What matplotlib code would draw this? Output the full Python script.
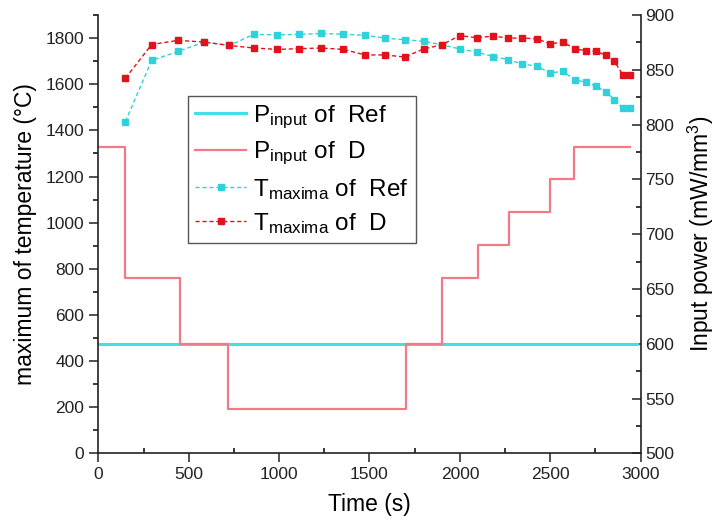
import matplotlib
matplotlib.use("Agg")
import matplotlib.pyplot as plt
from matplotlib.ticker import MultipleLocator

plt.rcParams['font.family'] = ['Liberation Sans', 'DejaVu Sans']
plt.rcParams['mathtext.fontset'] = 'custom'
plt.rcParams['mathtext.rm'] = 'Liberation Sans'
plt.rcParams['mathtext.it'] = 'Liberation Sans:italic'

#
# Data
#
time_T = [150, 295, 440, 585, 725, 860, 990, 1110, 1230, 1355, 1475, 1585, 1695,
          1800, 1900, 2000, 2095, 2185, 2265, 2345, 2425, 2500, 2570, 2635, 2695,
          2755, 2810, 2855, 2900, 2940]
T_ref = [1438, 1703, 1742, 1783, 1768, 1816, 1814, 1816, 1820, 1817, 1812, 1800, 1793,
         1786, 1771, 1753, 1739, 1720, 1707, 1688, 1678, 1649, 1656, 1619, 1609,
         1591, 1565, 1533, 1497, 1497]
T_D = [1626, 1772, 1790, 1783, 1768, 1757, 1751, 1754, 1757, 1751, 1727, 1727, 1718,
       1753, 1771, 1811, 1801, 1809, 1800, 1800, 1797, 1775, 1783, 1753, 1746,
       1742, 1725, 1699, 1642, 1642]

# input power, step profiles (value holds until the next time)
time_P_D = [0, 150, 450, 720, 1700, 1900, 2100, 2270, 2500, 2630, 2940]
P_D = [780, 660, 600, 540, 600, 660, 690, 720, 750, 780, 780]
time_P_ref = [0, 2980]
P_ref = [600, 600]

c_cyan = '#3fe0e6'
c_pink = '#f27a86'
c_tref = '#2fd2da'
c_red = '#e3111c'

fig = plt.figure(figsize=(7.16, 5.27), dpi=100)
ax = fig.add_axes([0.1373, 0.1398, 0.7575, 0.8317])
ax2 = ax.twinx()

# power on right axis
l1, = ax2.plot(time_P_ref, P_ref, color=c_cyan, lw=2.2, zorder=2,
               label=r'P$_{\mathrm{input}}$ of  Ref')
l2, = ax2.step(time_P_D, P_D, where='post', color=c_pink, lw=1.6, zorder=3,
               label=r'P$_{\mathrm{input}}$ of  D')

# temperature maxima on left axis, drawn above the power lines
ax.set_zorder(ax2.get_zorder() + 1)
ax.patch.set_visible(False)
l3, = ax.plot(time_T, T_ref, ls=(0, (3, 2)), color=c_tref, lw=1.0, marker='s',
              ms=4.5, mec=c_tref, mfc=c_tref, label=r'T$_{\mathrm{maxima}}$ of  Ref')
l4, = ax.plot(time_T, T_D, ls=(0, (3, 2)), color=c_red, lw=1.0, marker='s',
              ms=4.5, mec=c_red, mfc=c_red, label=r'T$_{\mathrm{maxima}}$ of  D')

ax.set_xlim(0, 3000)
ax.set_ylim(0, 1900)
ax2.set_ylim(500, 900)

ax.xaxis.set_major_locator(MultipleLocator(500))
ax.xaxis.set_minor_locator(MultipleLocator(250))
ax.yaxis.set_major_locator(MultipleLocator(200))
ax.yaxis.set_minor_locator(MultipleLocator(100))
ax2.yaxis.set_major_locator(MultipleLocator(50))
ax2.yaxis.set_minor_locator(MultipleLocator(25))

for a in (ax, ax2):
    a.spines['top'].set_visible(False)
    for s in a.spines.values():
        s.set_linewidth(1.2)
        s.set_color('#222222')

ax.spines['right'].set_visible(False)
ax2.spines['left'].set_visible(False)
ax2.spines['bottom'].set_visible(False)

ax.tick_params(axis='y', which='major', direction='out', length=6.5, width=1.1,
               labelsize=12.5, colors='#222222')
ax.tick_params(axis='y', which='minor', direction='out', length=3.5, width=1.1)
ax.tick_params(axis='x', which='major', direction='out', length=6.5, width=1.1,
               labelsize=12.5, colors='#222222')
ax.tick_params(axis='x', which='minor', direction='in', length=3.5, width=1.1)
ax2.tick_params(axis='y', which='major', direction='in', length=6.5, width=1.1,
                labelsize=12.5, colors='#222222')
ax2.tick_params(axis='y', which='minor', direction='in', length=3.5, width=1.1)

ax.set_xlabel('Time (s)', fontsize=16.5, labelpad=8)
ax.set_ylabel('maximum of temperature (°C)', fontsize=16.5, labelpad=6)
ax2.set_ylabel(r'Input power (mW/mm$^3$)', fontsize=16.5, labelpad=8)

leg = ax.legend(handles=[l1, l2, l3, l4], loc='upper left',
                bbox_to_anchor=(0.165, 0.815), fontsize=17.5, frameon=True,
                fancybox=False, framealpha=1, edgecolor='#555555',
                handlelength=2.1, handletextpad=0.3, borderpad=0.3,
                labelspacing=0.38, borderaxespad=0)
leg.get_frame().set_linewidth(1.0)

fig.savefig('out.png', dpi=100)
